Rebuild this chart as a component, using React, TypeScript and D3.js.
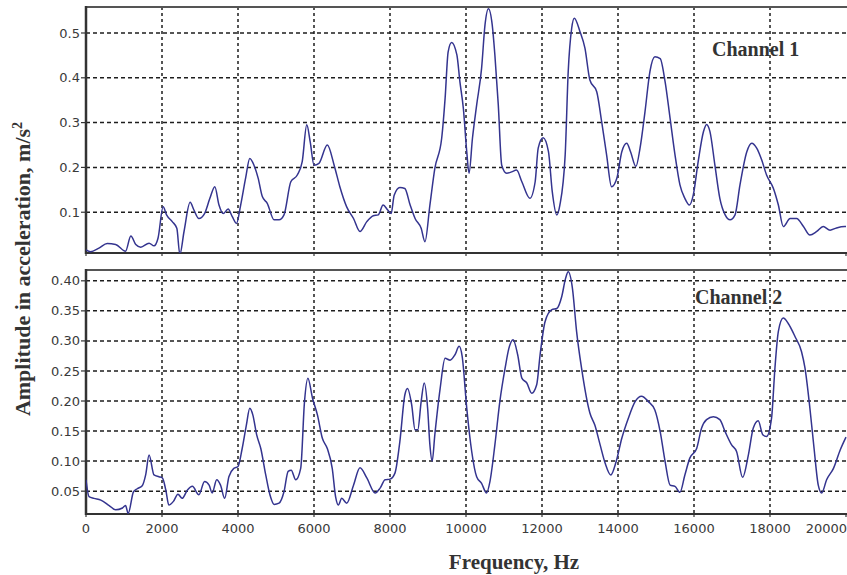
import React from "react";
import * as d3 from "d3";

// ---------- DATA ----------
const ch1Freq = [0,120,340,560,780,1040,1180,1310,1440,1660,1790,1895,2030,2120,2270,2390,2470,2580,2740,2840,2970,3120,3260,3390,3500,3610,3740,3850,3960,4070,4200,4310,4420,4530,4640,4770,4950,5080,5210,5390,5560,5690,5810,5900,6000,6130,6350,6530,6680,6860,7040,7210,7390,7560,7690,7820,7940,8030,8110,8260,8390,8530,8660,8820,8920,9050,9180,9360,9450,9530,9620,9760,9840,9930,10020,10080,10170,10280,10410,10500,10590,10690,10760,10850,10940,11070,11200,11330,11470,11680,11820,11900,12030,12170,12270,12390,12470,12610,12690,12780,12850,13000,13130,13260,13440,13570,13700,13830,13970,14100,14230,14330,14470,14580,14710,14840,14970,15110,15240,15370,15500,15630,15760,15880,15980,16110,16250,16330,16420,16550,16680,16820,16950,17080,17210,17390,17520,17650,17780,17910,18090,18220,18350,18530,18700,18880,19050,19230,19400,19580,19750,19970,20000];
const ch1Amp = [0.016,0.012,0.02,0.03,0.028,0.013,0.047,0.028,0.022,0.031,0.025,0.042,0.112,0.094,0.079,0.064,0.006,0.057,0.122,0.105,0.086,0.097,0.131,0.157,0.116,0.097,0.107,0.09,0.075,0.116,0.176,0.22,0.205,0.176,0.135,0.12,0.083,0.083,0.094,0.168,0.183,0.213,0.295,0.257,0.205,0.209,0.25,0.205,0.157,0.112,0.086,0.057,0.079,0.092,0.094,0.116,0.105,0.097,0.138,0.155,0.153,0.116,0.086,0.064,0.034,0.116,0.198,0.265,0.354,0.458,0.479,0.451,0.391,0.332,0.235,0.187,0.265,0.339,0.421,0.518,0.554,0.518,0.451,0.339,0.205,0.187,0.19,0.194,0.168,0.131,0.168,0.243,0.266,0.235,0.146,0.094,0.116,0.228,0.414,0.51,0.533,0.503,0.466,0.395,0.369,0.302,0.228,0.157,0.176,0.235,0.254,0.235,0.202,0.243,0.324,0.414,0.447,0.443,0.391,0.31,0.228,0.161,0.131,0.116,0.138,0.213,0.28,0.296,0.28,0.205,0.131,0.094,0.083,0.094,0.161,0.235,0.254,0.243,0.217,0.183,0.153,0.116,0.068,0.086,0.086,0.068,0.049,0.057,0.068,0.06,0.065,0.068,0.068];

const ch2Freq = [0,80,210,390,610,780,960,1040,1110,1250,1350,1480,1570,1660,1790,1920,2010,2100,2180,2300,2420,2530,2670,2800,2970,3120,3240,3320,3440,3540,3650,3760,3890,4000,4110,4220,4310,4390,4490,4600,4730,4840,4950,5080,5210,5320,5400,5520,5650,5750,5840,5960,6090,6220,6350,6480,6570,6640,6730,6860,7040,7210,7390,7610,7740,7870,8000,8130,8260,8390,8460,8570,8660,8730,8820,8900,8990,9050,9110,9180,9320,9450,9580,9710,9820,9900,10020,10150,10280,10410,10540,10630,10760,10890,11030,11130,11240,11360,11470,11600,11730,11860,11950,12080,12260,12390,12520,12620,12690,12800,12910,13040,13260,13390,13530,13660,13810,13950,14100,14270,14450,14620,14800,14970,15110,15240,15370,15500,15630,15760,15890,16070,16200,16330,16510,16680,16820,16990,17120,17280,17430,17560,17690,17810,17910,18040,18130,18220,18350,18480,18660,18830,18920,19050,19160,19270,19360,19490,19670,19850,20000];
const ch2Amp = [0.069,0.041,0.038,0.035,0.026,0.019,0.022,0.026,0.013,0.049,0.054,0.059,0.077,0.11,0.077,0.074,0.072,0.052,0.027,0.033,0.045,0.038,0.052,0.058,0.044,0.066,0.06,0.047,0.069,0.06,0.038,0.074,0.088,0.091,0.121,0.16,0.188,0.177,0.144,0.121,0.077,0.044,0.028,0.03,0.049,0.083,0.085,0.069,0.088,0.199,0.238,0.205,0.177,0.138,0.121,0.088,0.04,0.027,0.038,0.03,0.06,0.089,0.072,0.047,0.055,0.069,0.07,0.08,0.133,0.21,0.221,0.194,0.152,0.152,0.199,0.23,0.188,0.127,0.1,0.144,0.221,0.271,0.268,0.277,0.291,0.274,0.188,0.116,0.074,0.063,0.047,0.066,0.127,0.199,0.255,0.288,0.302,0.277,0.238,0.23,0.213,0.227,0.277,0.332,0.352,0.354,0.374,0.404,0.415,0.388,0.316,0.255,0.18,0.16,0.127,0.097,0.077,0.099,0.138,0.171,0.199,0.208,0.199,0.185,0.149,0.099,0.06,0.058,0.048,0.077,0.105,0.121,0.155,0.169,0.174,0.169,0.149,0.127,0.116,0.073,0.11,0.155,0.167,0.144,0.141,0.171,0.255,0.316,0.338,0.329,0.307,0.282,0.255,0.188,0.121,0.06,0.047,0.069,0.088,0.119,0.14];

const xTicks = [0,2000,4000,6000,8000,10000,12000,14000,16000,18000,20000];
const ch1Ticks = [0.1,0.2,0.3,0.4,0.5];
const ch2Ticks = [0.05,0.10,0.15,0.20,0.25,0.30,0.35,0.40];
const ch1Label = "Channel 1";
const ch2Label = "Channel 2";
const xTitle = "Frequency, Hz";
const yTitle = "Amplitude in acceleration, m/s";

// ---------- LAYOUT ----------
const W = 847, H = 575;
const X0 = 86, X1 = 846;
const LINE = "#34348f";
const GRID = "#1e1e1e";
const AX = "#333";

const x = d3.scaleLinear().domain([0, 20000]).range([X0, X1]);

type Panel = { id: string; top: number; bottom: number; domain: [number, number]; ticks: number[]; fmt: (v: number) => string; freq: number[]; amp: number[]; label: string; lx: number; ly: number };

const panels: Panel[] = [
  { id: "p1", top: 7, bottom: 253, domain: [0.009, 0.558], ticks: ch1Ticks, fmt: d3.format(".1f"), freq: ch1Freq, amp: ch1Amp, label: ch1Label, lx: 712, ly: 56 },
  { id: "p2", top: 270, bottom: 514, domain: [0.012, 0.418], ticks: ch2Ticks, fmt: d3.format(".2f"), freq: ch2Freq, amp: ch2Amp, label: ch2Label, lx: 695, ly: 304 },
];

function PanelView({ p, showX }: { p: Panel; showX: boolean }) {
  const y = d3.scaleLinear().domain(p.domain).range([p.bottom, p.top]);
  const pts = p.freq.map((f, i) => [f, p.amp[i]] as [number, number]);
  const line = d3.line<[number, number]>().x(d => x(d[0])).y(d => y(d[1])).curve(d3.curveMonotoneX);
  return (
    <g>
      <defs>
        <clipPath id={"clip-" + p.id}>
          <rect x={X0} y={p.top} width={X1 - X0 + 2} height={p.bottom - p.top} />
        </clipPath>
      </defs>
      {p.ticks.map(t => (
        <line key={"h" + t} x1={X0} x2={X1 + 1} y1={y(t)} y2={y(t)} stroke={GRID} strokeWidth={1.5} strokeDasharray="4,3" />
      ))}
      {xTicks.slice(1, -1).map(t => (
        <line key={"v" + t} x1={x(t)} x2={x(t)} y1={p.top} y2={p.bottom} stroke={GRID} strokeWidth={1.5} strokeDasharray="3,3" />
      ))}
      <line x1={X0} x2={W} y1={p.top} y2={p.top} stroke="#555" strokeWidth={1.8} />
      <line x1={X0} x2={W} y1={p.bottom} y2={p.bottom} stroke={AX} strokeWidth={2} />
      <line x1={X0} x2={X0} y1={p.top - 1} y2={p.bottom + 1} stroke={AX} strokeWidth={2.5} />
      {p.ticks.map(t => (
        <g key={"yt" + t}>
          <line x1={X0 - 5} x2={X0} y1={y(t)} y2={y(t)} stroke={AX} strokeWidth={1.2} />
          <text x={X0 - 6} y={y(t)} dy="0.35em" textAnchor="end" fontFamily="DejaVu Sans" fontSize={13} fill="#3a3a3a">{p.fmt(t)}</text>
        </g>
      ))}
      {xTicks.map(t => (
        <line key={"xt" + t} x1={x(t)} x2={x(t)} y1={p.bottom} y2={p.bottom + 3} stroke={AX} strokeWidth={1.2} />
      ))}
      {showX && xTicks.map((t, i) => (
        <text key={"xl" + t} x={i === xTicks.length - 1 ? W : x(t)} y={533} textAnchor={i === xTicks.length - 1 ? "end" : "middle"} fontFamily="DejaVu Sans" fontSize={13} fill="#3a3a3a">{t}</text>
      ))}
      <path d={line(pts) || ""} fill="none" stroke={LINE} strokeWidth={1.5} strokeLinejoin="round" clipPath={`url(#clip-${p.id})`} />
      <text x={p.lx} y={p.ly} fontFamily="Liberation Serif" fontWeight="bold" fontSize={20} fill="#333">{p.label}</text>
    </g>
  );
}

export default function App() {
  return (
    <svg width={W} height={H} style={{ position: "absolute", left: 0, top: 0, background: "#fff" }}>
      <rect x={0} y={0} width={W} height={H} fill="#fff" />
      {panels.map((p, i) => <PanelView key={p.id} p={p} showX={i === 1} />)}
      <text x={514} y={569} textAnchor="middle" fontFamily="Liberation Serif" fontWeight="bold" fontSize={21} fill="#333">{xTitle}</text>
      <text transform="translate(30,269) rotate(-90)" textAnchor="middle" fontFamily="Liberation Serif" fontWeight="bold" fontSize={22} fill="#333">
        {yTitle}<tspan dy={-8} fontSize={14}>2</tspan>
      </text>
    </svg>
  );
}
